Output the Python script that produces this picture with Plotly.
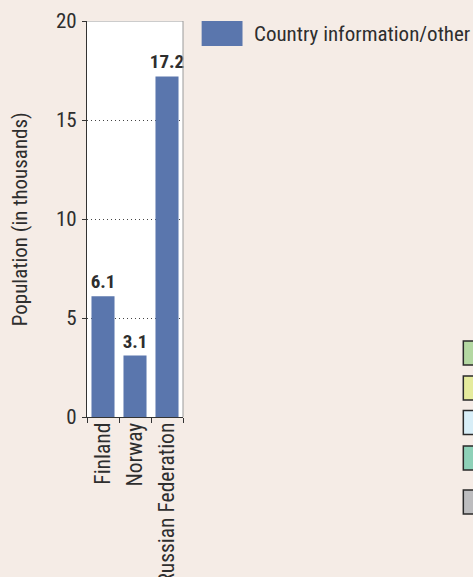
import plotly.graph_objects as go

countries = ["Finland", "Norway", "Russian Federation"]
population = [6.1, 3.1, 17.2]
value_labels = ["6.1", "3.1", "17.2"]
y_ticks = [0, 5, 10, 15, 20]
legend_label = "Country information/other"
side_colors = ["#b4d8a2", "#e5eb9d", "#d8eef7", "#8ed1b8", "#bdbdbf"]

W, H = 473, 577
L, R, T, B = 87, 183.3, 21, 417
BG = "#f5ece6"
BAR = "#5a76ad"
TXT = "#2e2e2e"
FONT = "Roboto Condensed, Liberation Sans Narrow, sans-serif"

def px_x(px):
    return (px - L) / (R - L)

def px_y(py):
    return (B - py) / (B - T)

fig = go.Figure()
fig.add_trace(go.Bar(
    x=countries, y=population, marker=dict(color=BAR, line=dict(width=0)),
    text=value_labels, textposition="outside", cliponaxis=False, constraintext="none",
    textfont=dict(family=FONT, size=19, color=TXT, weight="bold"),
    showlegend=False,
))

shapes = [
    dict(type="line", xref="paper", yref="y", x0=0, x1=1, y0=20, y1=20,
         line=dict(color="#9a9a9a", width=1)),
    dict(type="line", xref="paper", yref="paper", x0=1, x1=1, y0=0, y1=1,
         line=dict(color="#9a9a9a", width=1)),
    dict(type="rect", xref="paper", yref="paper", x0=px_x(202), x1=px_x(243),
         y0=px_y(46), y1=px_y(21), fillcolor=BAR, line=dict(width=0)),
]
tops = [341, 376, 410.5, 446, 490]
for c, t in zip(side_colors, tops):
    shapes.append(dict(type="rect", xref="paper", yref="paper",
                       x0=px_x(464.5), x1=px_x(490), y0=px_y(t + 24), y1=px_y(t),
                       fillcolor=c, line=dict(color="#2a2a2a", width=1.5)))

annotations = [
    dict(text=legend_label, xref="paper", yref="paper", x=px_x(253), y=px_y(33.5),
         xanchor="left", yanchor="middle", showarrow=False,
         font=dict(family=FONT, size=21, color=TXT)),
    dict(text="Population (in thousands)", xref="paper", yref="paper",
         x=px_x(20), y=0.5, xanchor="center", yanchor="middle", textangle=-90,
         showarrow=False, font=dict(family=FONT, size=21, color=TXT)),
]

fig.update_layout(
    width=W, height=H, autosize=False,
    margin=dict(l=L, r=W - R, t=T, b=H - B, pad=0),
    paper_bgcolor=BG, plot_bgcolor="white",
    bargap=0.28,
    font=dict(family=FONT, color=TXT),
    shapes=shapes, annotations=annotations,
    xaxis=dict(
        type="category", tickangle=-90, tickson="boundaries",
        ticks="outside", ticklen=5, tickcolor="#333", tickwidth=1,
        showline=True, linecolor="#333", linewidth=1.2,
        showgrid=False, tickfont=dict(family=FONT, size=21.5, color=TXT),
        automargin=False, ticklabelstandoff=-4,
    ),
    yaxis=dict(
        range=[0, 20], tickvals=y_ticks, ticks="outside", ticklen=4,
        tickcolor="#333", showline=True, linecolor="#333", linewidth=1.2,
        showgrid=True, gridcolor="#444", griddash="1px,3px", gridwidth=1,
        zeroline=False, tickfont=dict(family=FONT, size=21, color=TXT),
        automargin=False, ticklabelstandoff=1,
    ),
)

fig.write_html("out.html", config={"displayModeBar": False},
               post_script="document.body.style.margin='0';")
